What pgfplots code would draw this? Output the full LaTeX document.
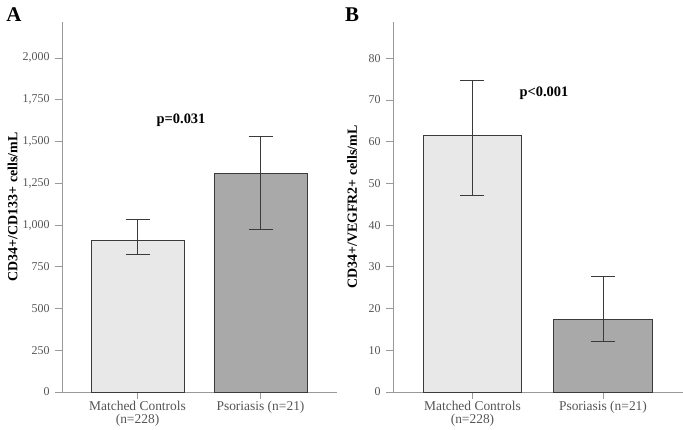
\documentclass[border=0pt]{standalone}
\usepackage{pgfplots}
\pgfplotsset{compat=1.18}
\usepackage{fontspec}
\setmainfont{Liberation Serif}
\definecolor{axgray}{HTML}{9A9A9A}
\definecolor{tickgray}{HTML}{555555}
\definecolor{barlight}{HTML}{E8E8E8}
\definecolor{bardark}{HTML}{A9A9A9}
\definecolor{edge}{HTML}{3A3A3A}
\pgfplotsset{
  panel/.style={
    scale only axis,
    anchor=south west,
    height=370bp,
    ymin=0,
    axis lines*=left,
    axis line style={axgray, line width=0.8pt},
    xtick={0,1},
    xticklabels={{Matched Controls\\(n=228)},{Psoriasis (n=21)}},
    xticklabel style={align=center, font=\fontsize{13.5}{13}\selectfont, text=tickgray, anchor=north, yshift=1bp},
    yticklabel style={font=\fontsize{12}{12}\selectfont, text=tickgray, xshift=-2bp},
    tick style={axgray, line width=0.8pt},
    tick align=outside,
    major tick length=7bp,
    ylabel style={font=\bfseries\fontsize{14}{14}\selectfont},
    /pgf/number format/assume math mode=true,
    /pgf/number format/1000 sep={,},
    scaled y ticks=false,
    clip=false,
  },
  barp/.style={ybar, bar shift=0pt, draw=edge, line width=0.8pt},
  errp/.style={draw=none, mark=none, forget plot,
    error bars/.cd, y dir=both, y explicit,
    error bar style={edge, line width=0.9pt},
    error mark options={rotate=90, mark size=12bp, edge, line width=0.9pt}},
}
\begin{document}
\begin{tikzpicture}[x=1bp,y=1bp]
\useasboundingbox (0,0) rectangle (683,429);
\node[font=\bfseries\fontsize{21}{21}\selectfont, anchor=center] at (14,414) {A};
\node[font=\bfseries\fontsize{21}{21}\selectfont, anchor=center] at (352,414) {B};
% Panel A
\begin{axis}[panel, at={(62bp,37bp)}, width=275bp,
  xmin=-0.614, xmax=1.622, ymax=2215,
  ytick={0,250,500,750,1000,1250,1500,1750,2000},
  ylabel={CD34+/CD133+ cells/mL},
  ylabel style={at={(axis description cs:-0.18,0.5)}, anchor=center},
  bar width=0.756]
\addplot[barp, fill=barlight] coordinates {(0,906)};
\addplot[barp, fill=bardark] coordinates {(1,1311)};
\addplot[errp] coordinates {(0,930) +- (0,104) (1,1252.5) +- (0,276.5)};
\node[font=\bfseries\fontsize{14.5}{14.5}\selectfont] at (axis cs:0.354,1629) {p=0.031};
\end{axis}
% Panel B
\begin{axis}[panel, at={(393bp,37bp)}, width=290bp,
  xmin=-0.609, xmax=1.613, ymax=88.7,
  ytick={0,10,20,30,40,50,60,70,80},
  ylabel={CD34+/VEGFR2+ cells/mL},
  ylabel style={at={(axis description cs:-0.141,0.5)}, anchor=center},
  bar width=0.755]
\addplot[barp, fill=barlight] coordinates {(0,61.6)};
\addplot[barp, fill=bardark] coordinates {(1,17.5)};
\addplot[errp] coordinates {(0,60.85) +- (0,13.85) (1,19.9) +- (0,7.7)};
\node[font=\bfseries\fontsize{14.5}{14.5}\selectfont] at (axis cs:0.548,71.7) {p<0.001};
\end{axis}
\end{tikzpicture}
\end{document}
